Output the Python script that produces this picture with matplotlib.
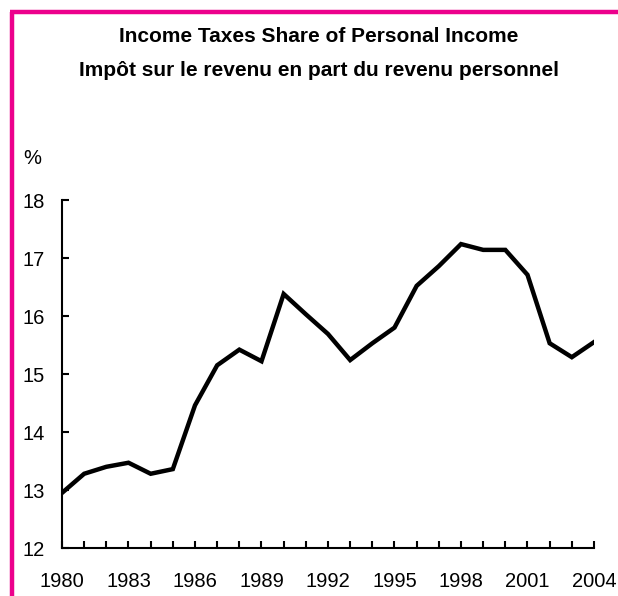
import matplotlib
matplotlib.use("Agg")
from matplotlib import pyplot as plt
from matplotlib.lines import Line2D

plt.rcParams['font.family'] = ['Liberation Sans', 'DejaVu Sans']

years = list(range(1980, 2005))
share = [12.95, 13.28, 13.40, 13.47, 13.28, 13.36, 14.46, 15.15, 15.42, 15.22,
         16.38, 16.03, 15.69, 15.24, 15.53, 15.80, 16.52, 16.86, 17.24, 17.14,
         17.14, 16.71, 15.53, 15.29, 15.55]
xtick_years = list(range(1980, 2005, 3))
yticks = [12, 13, 14, 15, 16, 17, 18]

title_en = "Income Taxes Share of Personal Income"
title_fr = "Impôt sur le revenu en part du revenu personnel"

fig = plt.figure(figsize=(6.18, 5.96), dpi=100)
ax = fig.add_axes([62/618, 1 - 548/596, (594 - 62)/618, (548 - 200)/596])

ax.plot(years, share, color="black", lw=3.2, solid_joinstyle="miter")

ax.set_xlim(1980, 2004)
ax.set_ylim(12, 18)
ax.set_xticks(xtick_years)
ax.set_xticks(years, minor=True)
ax.set_yticks(yticks)
ax.tick_params(axis="x", which="both", direction="in", length=5, width=1.5,
               labelsize=14.5, pad=17)
ax.tick_params(axis="y", direction="in", length=5, width=1.5, labelsize=14.5, pad=12.5)

for s in ["top", "right"]:
    ax.spines[s].set_visible(False)
for s in ["left", "bottom"]:
    ax.spines[s].set_linewidth(1.5)

fig.text(23/618, 1 - 159/596, "%", fontsize=14.5, ha="left", va="center")
fig.text(0.5 + 10/618, 1 - 36/596, title_en, fontsize=15, fontweight="bold",
         ha="center", va="center")
fig.text(0.5 + 10/618, 1 - 70/596, title_fr, fontsize=15, fontweight="bold",
         ha="center", va="center")

# magenta frame on the top and left edges
pink = "#EC008C"
fig.add_artist(Line2D([12/618, 12/618], [0, 1 - 12/596], transform=fig.transFigure,
                      color=pink, lw=3.2, solid_capstyle="butt"))
fig.add_artist(Line2D([10/618, 1], [1 - 12/596, 1 - 12/596], transform=fig.transFigure,
                      color=pink, lw=3.2, solid_capstyle="butt"))

fig.savefig("out.png", dpi=100)
